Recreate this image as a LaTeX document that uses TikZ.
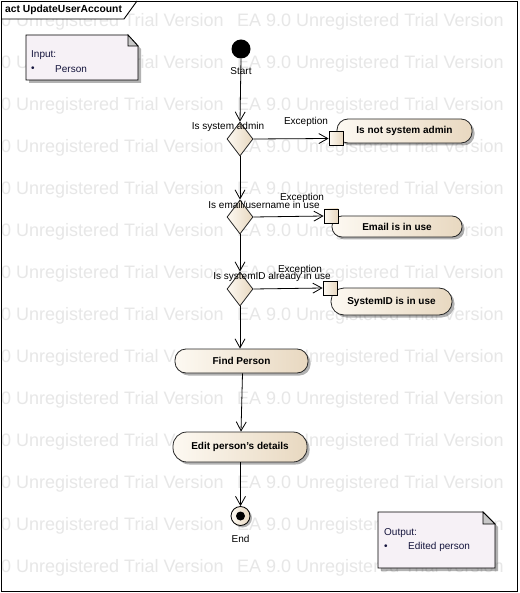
\documentclass[tikz,border=0pt]{standalone}
\usepackage{fontspec}
\setmainfont{Liberation Sans}
\usetikzlibrary{arrows.meta,shapes.geometric,shadows}
\definecolor{actL}{HTML}{FDF9F2}
\definecolor{actR}{HTML}{E8D8C0}
\definecolor{notefill}{HTML}{F6F1F6}
\definecolor{wm}{HTML}{E7E7E7}
\definecolor{flap}{HTML}{C8C8C8}
\tikzset{
  lbl/.style={font=\fontsize{10}{12}\selectfont, inner sep=0pt},
  wmtext/.style={font=\fontsize{18}{20}\selectfont, text=wm, inner sep=0pt, anchor=west},
  action/.style={draw=black!85, line width=0.8pt, rounded corners=11pt, inner sep=0pt,
    left color=actL, right color=actR, font=\fontsize{10}{12}\selectfont\bfseries,
    drop shadow={shadow xshift=2.5pt, shadow yshift=-2.5pt, opacity=0.3, fill=black}},
  decision/.style={diamond, draw=black!85, line width=0.8pt, inner sep=0pt, minimum width=26pt, minimum height=34pt,
    left color=actL, right color=actR},
  pinbox/.style={rectangle, draw=black, line width=0.8pt, inner sep=0pt, minimum size=14pt,
    left color=actL, right color=actR},
  flow/.style={draw=black, line width=0.8pt, -{Straight Barb[length=9pt,width=10pt]}},
  notetext/.style={font=\fontsize{10}{12}\selectfont, text={rgb,255:red,20;green,20;blue,60}, inner sep=0pt, anchor=west},
}
\begin{document}
\begin{tikzpicture}[x=1pt,y=-1pt]
\useasboundingbox (0,0) rectangle (519,593);
\fill[white] (0,0) rectangle (519,593);
% watermark
\foreach \yy in {22,64,106,148,190,232,274,316,358,400,442,484,526,568}{
  \node[wmtext] at (1,\yy) {0 Unregistered Trial Version};
  \node[wmtext] at (237,\yy) {EA 9.0 Unregistered Trial Version};
}
% frame
\fill[white] (1,1) -- (137,1) -- (124,19) -- (1,19) -- cycle;
\draw[black, line width=0.9pt] (1,1) rectangle (517,591);
\draw[black, line width=0.9pt] (1,19) -- (124,19) -- (137,1);
\node[font=\fontsize{10.3}{12}\selectfont\bfseries, anchor=west, inner sep=0pt] (title) at (5,10) {act UpdateUserAccount};

% input note
\fill[black, opacity=0.3] (29,38) -- (130,38) -- (141,49) -- (141,83) -- (29,83) -- cycle;
\draw[fill=notefill, line width=0.8pt] (26,35) -- (128,35) -- (138,46) -- (138,80) -- (26,80) -- cycle;
\draw[fill=flap, line width=0.8pt] (128,35) -- (128,46) -- (138,46) -- cycle;
\node[notetext] (intext) at (31,55) {Input:};
\node[notetext] (inbul) at (31,69) {\textbullet};
\node[notetext] (initem) at (55,69) {Person};

% output note
\fill[black, opacity=0.3] (381,515) -- (486,515) -- (498,527) -- (498,571) -- (381,571) -- cycle;
\draw[fill=notefill, line width=0.8pt] (378,512) -- (483,512) -- (495,524) -- (495,568) -- (378,568) -- cycle;
\draw[fill=flap, line width=0.8pt] (483,512) -- (483,524) -- (495,524) -- cycle;
\node[notetext] (outtext) at (384,533) {Output:};
\node[notetext] (outbul) at (384,547) {\textbullet};
\node[notetext] (outitem) at (408,547) {Edited person};

% start
\node[circle, fill=black, minimum size=19pt, inner sep=0pt] (start) at (241,49) {};
\node[lbl] (startlbl) at (241,71) {Start};

% decisions
\node[decision] (d1) at (240,139) {};
\node[decision] (d2) at (240,217) {};
\node[decision] (d3) at (240,289) {};
\node[lbl] (d1lbl) at (228,127) {Is system admin};
\node[lbl] (d2lbl) at (264,205) {Is email/username in use};
\node[lbl] (d3lbl) at (272,277) {Is systemID already in use};

% actions
\node[action, minimum width=135pt, minimum height=24pt] (a1) at (404.5,131) {Is not system admin};
\node[action, minimum width=130pt, minimum height=21pt, rounded corners=10pt] (a2) at (397,226.5) {Email is in use};
\node[action, minimum width=121pt, minimum height=27pt, rounded corners=13pt] (a3) at (391.5,301.5) {SystemID is in use};
\node[action, minimum width=133pt, minimum height=24pt] (find) at (241.5,361) {Find Person};
\node[action, minimum width=134pt, minimum height=30pt, rounded corners=14pt] (edit) at (240,447) {Edit person's details};

% pins
\node[pinbox] (p1) at (336,138.5) {};
\node[pinbox] (p2) at (331,216) {};
\node[pinbox] (p3) at (330,288) {};
\node[lbl] (e1) at (306,122) {Exception};
\node[lbl] (e2) at (302,198) {Exception};
\node[lbl] (e3) at (300,270) {Exception};

% end
\node[circle, draw=black, line width=0.8pt, left color=actL, right color=actR, minimum size=19pt, inner sep=0pt,
  drop shadow={shadow xshift=2pt, shadow yshift=-2pt, opacity=0.3, fill=black}] (end) at (240.5,516) {};
\node[circle, fill=black, minimum size=9pt, inner sep=0pt] (endin) at (end.center) {};
\node[lbl] (endlbl) at (240.5,539) {End};

% flows
\draw[flow] (start.south) -- (d1.north);
\draw[flow] (d1.east) -- (p1.west);
\draw[flow] (d1.south) -- (d2.north);
\draw[flow] (d2.east) -- (p2.west);
\draw[flow] (d2.south) -- (d3.north);
\draw[flow] (d3.east) -- (p3.west);
\draw[flow] (d3.south) -- (d3.south |- find.north);
\draw[flow] ([xshift=1pt]find.south) -- ([xshift=1pt]edit.north);
\draw[flow] (edit.south -| end.north) -- (end.north);
\end{tikzpicture}
\end{document}
